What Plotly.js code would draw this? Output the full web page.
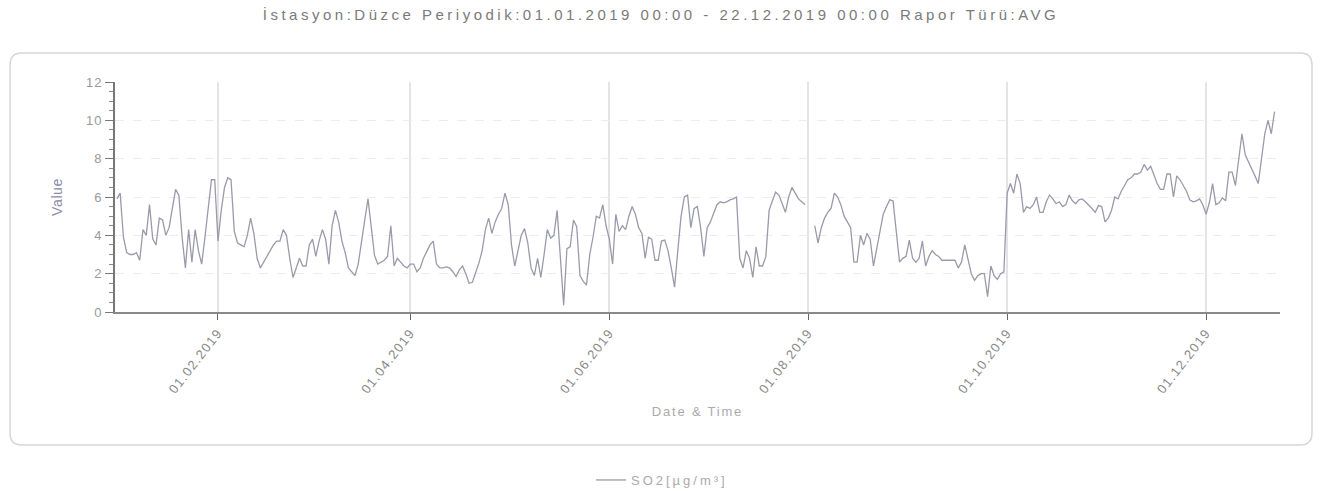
<!DOCTYPE html>
<html>
<head>
<meta charset="utf-8">
<script src="https://cdn.plot.ly/plotly-3.0.1.min.js"></script>
<style>
html,body{margin:0;padding:0;background:#fff;}
#chart{width:1322px;height:491px;}
#chart text.gtitle{letter-spacing:3.5px;}
#chart g.xtick text{letter-spacing:1.3px;}
#chart g.ytick text{letter-spacing:1px;}
#chart text.xtitle{letter-spacing:1.8px;}
#chart text.ytitle{letter-spacing:0.6px;}
#chart text.legendtext{letter-spacing:3px;}
#chart g.legend g.scrollbox{clip-path:none !important;}
</style>
</head>
<body>
<div id="chart"></div>
<script>
// Daily SO2 averages (µg/m³), one array per month of 2019
const jan = [5.9, 6.2, 3.9, 3.1, 3.0, 3.0, 3.1, 2.7, 4.3, 4.0, 5.6, 3.8, 3.5, 4.9, 4.8, 4.0, 4.4, 5.4, 6.4, 6.1, 3.9, 2.3, 4.3, 2.6, 4.3, 3.2, 2.5, 3.9, 5.4, 6.9, 6.9];
const feb = [3.7, 5.3, 6.5, 7.0, 6.9, 4.2, 3.6, 3.5, 3.4, 4.0, 4.9, 4.1, 2.8, 2.3, 2.6, 2.9, 3.2, 3.5, 3.7, 3.7, 4.3, 4.0, 2.8, 1.8, 2.3, 2.8, 2.4, 2.4];
const mar = [3.5, 3.8, 2.9, 3.7, 4.3, 3.8, 2.5, 4.5, 5.3, 4.7, 3.7, 3.1, 2.3, 2.1, 1.9, 2.5, 3.8, 4.8, 5.9, 4.5, 2.95, 2.5, 2.6, 2.7, 2.9, 4.5, 2.4, 2.8, 2.6, 2.4, 2.3];
const apr = [2.5, 2.5, 2.1, 2.3, 2.8, 3.15, 3.5, 3.7, 2.5, 2.3, 2.3, 2.35, 2.3, 2.1, 1.85, 2.2, 2.4, 2.0, 1.5, 1.55, 2.0, 2.55, 3.2, 4.3, 4.9, 4.1, 4.7, 5.1, 5.4, 6.2];
const may = [5.6, 3.5, 2.4, 3.2, 4.0, 4.35, 3.6, 2.3, 1.9, 2.8, 1.8, 3.0, 4.3, 3.85, 4.0, 5.3, 2.6, 0.35, 3.3, 3.4, 4.8, 4.45, 1.9, 1.6, 1.4, 3.0, 3.9, 5.0, 4.9, 5.6, 4.5];
const jun = [3.8, 2.5, 5.1, 4.2, 4.5, 4.3, 5.0, 5.5, 5.1, 4.4, 4.1, 2.8, 3.9, 3.8, 2.7, 2.7, 3.7, 3.75, 3.2, 2.3, 1.3, 3.2, 5.0, 6.0, 6.1, 4.4, 5.4, 5.5, 4.4, 2.9];
const jul = [4.4, 4.7, 5.1, 5.6, 5.75, 5.7, 5.75, 5.85, 5.9, 6.0, 2.8, 2.3, 3.2, 2.8, 1.8, 3.4, 2.4, 2.4, 2.9, 5.3, 5.8, 6.25, 6.1, 5.6, 5.2, 6.0, 6.5, 6.2, 5.9, 5.75, 5.6];
const aug = [null, null, 4.5, 3.6, 4.4, 4.9, 5.2, 5.4, 6.2, 6.0, 5.6, 5.0, 4.7, 4.4, 2.6, 2.6, 4.0, 3.5, 4.1, 3.8, 2.4, 3.3, 4.0, 5.1, 5.5, 5.85, 5.8, 4.3, 2.6, 2.8, 2.9];
const sep = [3.75, 2.8, 2.6, 2.8, 3.7, 2.4, 2.9, 3.2, 3.0, 2.9, 2.7, 2.7, 2.7, 2.7, 2.7, 2.3, 2.6, 3.5, 2.8, 2.0, 1.65, 1.9, 2.0, 2.0, 0.8, 2.4, 1.9, 1.7, 2.0, 2.1];
const oct = [6.2, 6.7, 6.2, 7.2, 6.7, 5.2, 5.5, 5.4, 5.6, 6.0, 5.2, 5.2, 5.75, 6.1, 5.9, 5.65, 5.75, 5.5, 5.6, 6.1, 5.8, 5.65, 5.85, 5.9, 5.75, 5.6, 5.4, 5.2, 5.55, 5.5, 4.7];
const nov = [4.9, 5.3, 6.0, 5.9, 6.3, 6.6, 6.9, 7.0, 7.2, 7.2, 7.3, 7.7, 7.4, 7.6, 7.2, 6.7, 6.4, 6.4, 7.2, 7.2, 6.0, 7.1, 6.9, 6.6, 6.3, 5.85, 5.75, 5.8, 5.9, 5.6];
const dec = [5.1, 5.7, 6.7, 5.6, 5.7, 5.95, 5.8, 7.3, 7.3, 6.6, 7.9, 9.3, 8.2, 7.85, 7.5, 7.1, 6.7, 8.1, 9.3, 10.0, 9.3, 10.45];

const months = [jan, feb, mar, apr, may, jun, jul, aug, sep, oct, nov, dec];
const tickVals = ['2019-02-01', '2019-04-01', '2019-06-01', '2019-08-01', '2019-10-01', '2019-12-01'];
const tickText = ['01.02.2019', '01.04.2019', '01.06.2019', '01.08.2019', '01.10.2019', '01.12.2019'];
const seriesName = 'SO2[µg/m³]';
const chartTitle = 'İstasyon:Düzce Periyodik:01.01.2019 00:00 - 22.12.2019 00:00 Rapor Türü:AVG';

const xs = [], ys = [];
months.forEach((arr, mi) => {
  arr.forEach((v, di) => {
    const mm = String(mi + 1).padStart(2, '0');
    const dd = String(di + 1).padStart(2, '0');
    xs.push('2019-' + mm + '-' + dd);
    ys.push(v);
  });
});

// frame (rounded rectangle) in paper coordinates
const W = 1322, H = 491, ml = 115, mr = 42, mt = 82, mb = 179;
const pw = W - ml - mr, ph = H - mt - mb;
const px = p => (p - ml) / pw;
const py = p => (H - mb - p) / ph;
const L = px(10), R = px(1312), T = py(53), B = py(445);
const rx = 12 / pw, ry = 12 / ph;
const framePath = `M ${L + rx},${T} L ${R - rx},${T} Q ${R},${T} ${R},${T - ry} L ${R},${B + ry} Q ${R},${B} ${R - rx},${B} L ${L + rx},${B} Q ${L},${B} ${L},${B + ry} L ${L},${T - ry} Q ${L},${T} ${L + rx},${T} Z`;

const trace = {
  type: 'scatter', mode: 'lines', x: xs, y: ys, name: seriesName,
  connectgaps: false,
  line: {color: '#9a9aaa', width: 1.3},
  showlegend: true
};

const font = 'Liberation Sans, Arial, sans-serif';
const layout = {
  width: W, height: H,
  margin: {l: ml, r: mr, t: mt, b: mb, pad: 0},
  paper_bgcolor: '#ffffff', plot_bgcolor: '#ffffff',
  font: {family: font, color: '#999'},
  title: {text: chartTitle, x: 0.5, xref: 'container', xanchor: 'center', y: 1 - 15 / H, yref: 'container', yanchor: 'middle',
          font: {family: font, size: 15, color: '#7a7a7a'}},
  xaxis: {
    type: 'date', range: ['2018-12-31 10:00', '2019-12-23 16:00'],
    tickmode: 'array', tickvals: tickVals, ticktext: tickText, tickangle: -52,
    ticks: 'outside', ticklen: 6, tickcolor: '#666', tickwidth: 1,
    tickfont: {family: font, size: 13, color: '#888'},
    showline: true, linecolor: '#888', linewidth: 2,
    showgrid: true, gridcolor: '#e4e4e4', gridwidth: 2,
    zeroline: false,
    title: {text: 'Date & Time', font: {family: font, size: 13, color: '#aaa'}, standoff: 22},
    automargin: false
  },
  yaxis: {
    range: [0, 12], dtick: 2, tick0: 0,
    ticks: 'outside', ticklen: 8, tickcolor: '#777', tickwidth: 1,
    tickfont: {family: font, size: 13, color: '#999'},
    showline: true, linecolor: '#777', linewidth: 2,
    showgrid: true, gridcolor: '#ececec', griddash: 'dash', gridwidth: 1,
    zeroline: false,
    minor: {dtick: 0.5, ticks: 'outside', ticklen: 4, tickcolor: '#888', showgrid: false},
    title: {text: 'Value', font: {family: font, size: 14, color: '#8a8aa8'}, standoff: 22},
    automargin: false
  },
  showlegend: true,
  legend: {orientation: 'h', x: 0.5 - 14 / W, xref: 'container', xanchor: 'center', y: 1 - 480 / H, yref: 'container', yanchor: 'middle',
           font: {family: font, size: 13, color: '#aaa'}, bgcolor: 'rgba(0,0,0,0)'},
  shapes: [{type: 'path', xref: 'paper', yref: 'paper', path: framePath, line: {color: '#d6d6d6', width: 1.5}, layer: 'below'}]
};

Plotly.newPlot('chart', [trace], layout, {displayModeBar: false, staticPlot: true});
</script>
</body>
</html>
